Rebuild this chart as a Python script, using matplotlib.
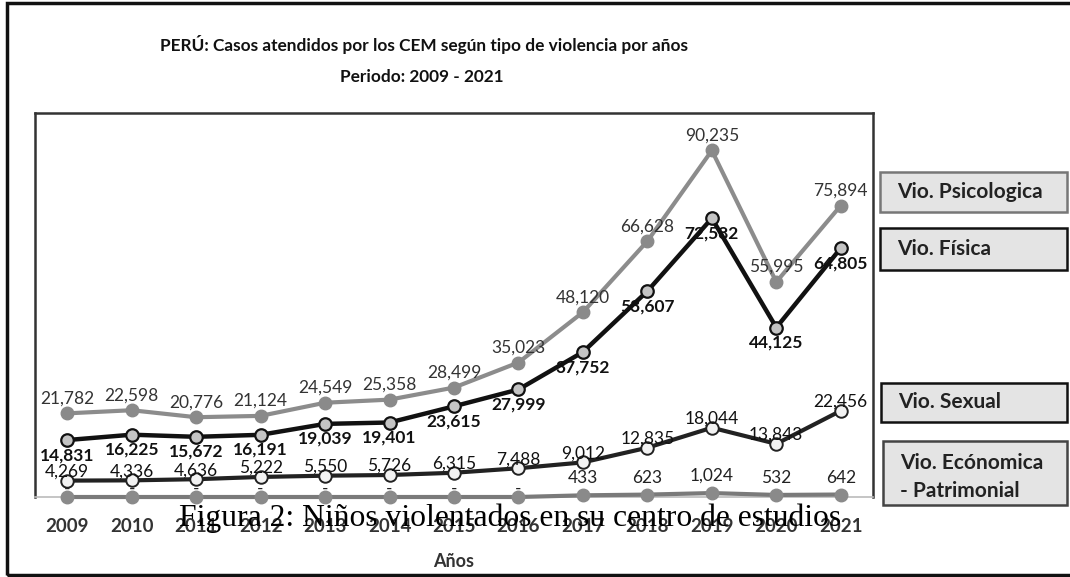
import matplotlib
matplotlib.use("Agg")
import matplotlib.pyplot as plt
from matplotlib.patches import Rectangle

years = ["2009", "2010", "2011", "2012", "2013", "2014", "2015",
         "2016", "2017", "2018", "2019", "2020", "2021"]
psicologica = [21782, 22598, 20776, 21124, 24549, 25358, 28499,
               35023, 48120, 66628, 90235, 55995, 75894]
fisica = [14831, 16225, 15672, 16191, 19039, 19401, 23615,
          27999, 37752, 53607, 72582, 44125, 64805]
sexual = [4269, 4336, 4636, 5222, 5550, 5726, 6315,
          7488, 9012, 12835, 18044, 13843, 22456]
economica = [0, 0, 0, 0, 0, 0, 0, 0, 433, 623, 1024, 532, 642]
legend_labels = ["Vio. Psicologica", "Vio. Física", "Vio. Sexual",
                 "Vio. Ecónomica\n- Patrimonial"]
title_lines = ["PERÚ: Casos atendidos por los CEM según tipo de violencia por años",
               "Periodo: 2009 - 2021"]
xlabel_text = "Años"
caption_text = "Figura 2: Niños violentados en su centro de estudios"

W, H = 1070, 577
FONT = ["Lato", "DejaVu Sans"]
plt.rcParams["font.family"] = FONT

fig = plt.figure(figsize=(W / 100, H / 100), dpi=100)
fig.patch.set_facecolor("white")


def fx(px):
    return px / W


def fy(py):
    return 1 - py / H


# outer frame (right side runs off the image)
fig.add_artist(Rectangle((fx(7), fy(575)), fx(1090) - fx(7), fy(3) - fy(575),
                         transform=fig.transFigure, fill=False,
                         edgecolor="#111111", linewidth=2.5))

L, R, T, B = 35, 873, 113, 497
ax = fig.add_axes([fx(L), fy(B), fx(R) - fx(L), fy(T) - fy(B)])
ax.set_xlim(-0.5, len(years) - 0.5)
ax.set_ylim(0, 100000)
for s in ["left", "top", "right"]:
    ax.spines[s].set_color("#333333")
    ax.spines[s].set_linewidth(1.8)
ax.spines["bottom"].set_color("#bbbbbb")
ax.spines["bottom"].set_linewidth(1.2)
ax.set_yticks([])
ax.set_xticks(range(len(years)))
ax.set_xticklabels(years, fontsize=13.5, fontweight="bold", color="#333333")
ax.tick_params(axis="x", length=0, pad=15)
ax.set_xlabel(xlabel_text, fontsize=13, fontweight="bold", color="#333333",
              labelpad=13)

x = list(range(len(years)))
ax.plot(x, psicologica, color="#8c8c8c", lw=3, marker="o", ms=9,
        mfc="#8a8a8a", mec="#8a8a8a", clip_on=False, zorder=3)
ax.plot(x, fisica, color="#111111", lw=3.2, marker="o", ms=9,
        mfc="#c4c4c4", mec="#111111", mew=1.6, clip_on=False, zorder=4)
ax.plot(x, sexual, color="#222222", lw=3, marker="o", ms=9,
        mfc="#f2f2f2", mec="#222222", mew=1.4, clip_on=False, zorder=3)
ax.plot(x, economica, color="#7a7a7a", lw=3, marker="o", ms=9,
        mfc="#8a8a8a", mec="#8a8a8a", clip_on=False, zorder=3)

px2pt = 0.72


def lab(vals, dy, color, weight, dy_zero=None):
    for i, v in enumerate(vals):
        t = f"{v:,}" if v else "-"
        d = dy if (v or dy_zero is None) else dy_zero
        ax.annotate(t, (i, v), xytext=(0, d * px2pt), textcoords="offset points",
                    ha="center", va="center", fontsize=12.5, color=color,
                    fontweight=weight, annotation_clip=False, zorder=6)


lab(psicologica, 15, "#333333", "normal")
lab(fisica, -15, "#111111", "bold")
lab(sexual, 9, "#111111", "normal")
lab(economica, 17, "#222222", "normal", dy_zero=8)

fig.text(fx(424), fy(44), title_lines[0], ha="center", va="center",
         fontsize=12.4, fontweight="bold", color="#111111")
fig.text(fx(422), fy(77), title_lines[1], ha="center", va="center",
         fontsize=12.4, fontweight="bold", color="#111111")

# side label boxes
boxes = [(880, 172, 212, "#777777"), (880, 228, 270, "#111111"),
         (881, 383, 422, "#111111"), (883, 441, 505, "#444444")]
for (bx, bt, bb, ec), txt in zip(boxes, legend_labels):
    fig.add_artist(Rectangle((fx(bx), fy(bb)), fx(1067) - fx(bx), fy(bt) - fy(bb),
                             transform=fig.transFigure, facecolor="#e4e4e4",
                             edgecolor=ec, linewidth=1.8))
    ty = (bt + bb) / 2 + (4 if "\n" in txt else 0)
    fig.text(fx(bx + 17), fy(ty), txt, ha="left", va="center",
             fontsize=15, fontweight="bold", color="#222222",
             linespacing=1.55)

fig.text(fx(510), fy(518), caption_text, ha="center", va="center",
         fontsize=22.8, family=["Liberation Serif", "DejaVu Serif"], color="black")

fig.savefig("out.png", dpi=100)
